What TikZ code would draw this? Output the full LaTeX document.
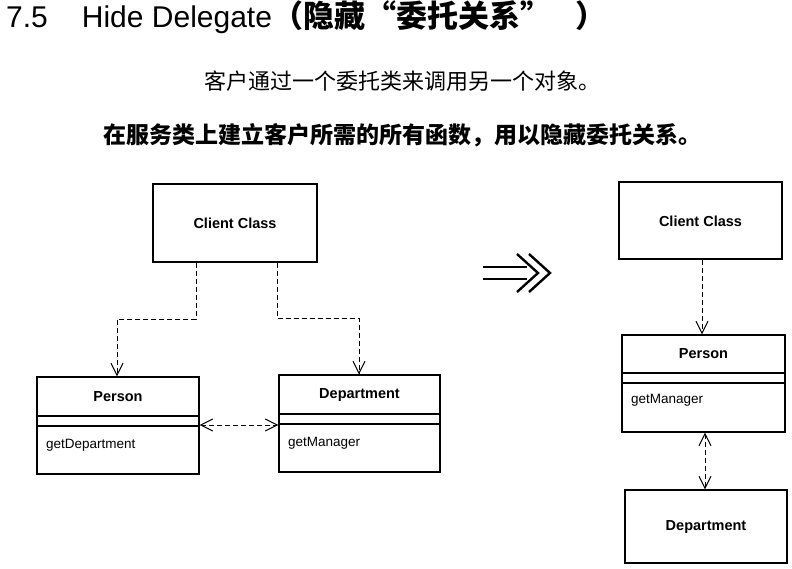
\documentclass[tikz,border=0pt]{standalone}
\usepackage{fontspec}
\setmainfont{Liberation Sans}
\newfontfamily\cjk{Noto Sans CJK SC}
\usetikzlibrary{arrows.meta}
\tikzset{
  box/.style={draw, line width=1.3pt, inner sep=0pt, rectangle},
  cname/.style={font=\fontsize{14.5}{16}\selectfont\bfseries, inner sep=0pt},
  meth/.style={font=\fontsize{13.5}{15}\selectfont, inner sep=0pt, anchor=west},
  sep/.style={line width=1.1pt},
  dep/.style={line width=1pt, dash pattern=on 5pt off 3pt, -{Straight Barb[length=12pt,width=12pt,line width=1pt]}},
  bidep/.style={line width=1pt, dash pattern=on 5pt off 3pt, {Straight Barb[length=12pt,width=12pt,line width=1pt]}-{Straight Barb[length=12pt,width=12pt,line width=1pt]}},
  bigarrow/.style={line width=2.4pt, line join=miter}
}
\begin{document}
\begin{tikzpicture}[x=1pt,y=-1pt]
\useasboundingbox (0,0) rectangle (792,569);
% title
\node[anchor=base west, inner sep=0pt, font=\fontsize{30}{34}\selectfont] (title) at (6,28)
  {7.5\hspace{34pt}Hide Delegate{\cjk\fontsize{31}{34}\selectfont\bfseries （隐藏“委托关系”\hspace{24pt}）}};
\node[inner sep=0pt, font=\cjk\fontsize{22}{26}\selectfont] (l2) at (402,81)
  {客户通过一个委托类来调用另一个对象。};
\node[inner sep=0pt, font=\cjk\fontsize{23}{27}\selectfont\bfseries] (l3) at (402,135)
  {在服务类上建立客户所需的所有函数，用以隐藏委托关系。};
% left diagram
\node[box, minimum width=164pt, minimum height=78pt] (c1) at (235,223) {};
\node[cname] (c1t) at (235,223) {Client Class};
\node[box, minimum width=162pt, minimum height=97pt] (p1) at (118,425.5) {};
\node[cname] (p1t) at (118,397) {Person};
\draw[sep] (p1.west |- 0,416) -- (p1.east |- 0,416);
\draw[sep] (p1.west |- 0,426) -- (p1.east |- 0,426);
\node[meth] (p1m) at (46,445) {getDepartment};
\node[box, minimum width=161pt, minimum height=97pt] (d1) at (359.5,423.5) {};
\node[cname] (d1t) at (359.5,395) {Department};
\draw[sep] (d1.west |- 0,414) -- (d1.east |- 0,414);
\draw[sep] (d1.west |- 0,424) -- (d1.east |- 0,424);
\node[meth] (d1m) at (288,443) {getManager};
\draw[dep] (c1.south -| 196,0) |- (117,319) -- (p1.north -| 117,0);
\draw[dep] (c1.south -| 277,0) |- (359,318) -- (d1.north -| 359,0);
\draw[bidep] (p1.east |- 0,425) -- (d1.west |- 0,425);
% big arrow
\draw[bigarrow] (483,267) -- (527,267);
\draw[bigarrow] (483,279) -- (527,279);
\draw[bigarrow] (517,254) -- (538,273) -- (517,292);
\draw[bigarrow] (529,254) -- (550,273) -- (529,292);
% right diagram
\node[box, minimum width=163pt, minimum height=77pt] (c2) at (700.5,220.5) {};
\node[cname] (c2t) at (700.5,221) {Client Class};
\node[box, minimum width=163pt, minimum height=97pt] (p2) at (703.5,383.5) {};
\node[cname] (p2t) at (703.5,354) {Person};
\draw[sep] (p2.west |- 0,373) -- (p2.east |- 0,373);
\draw[sep] (p2.west |- 0,383) -- (p2.east |- 0,383);
\node[meth] (p2m) at (631,400) {getManager};
\node[box, minimum width=162pt, minimum height=73pt] (d2) at (706,526.5) {};
\node[cname] (d2t) at (706,527) {Department};
\draw[dep] (c2.south -| 702,0) -- (p2.north -| 702,0);
\draw[bidep] (p2.south -| 705,0) -- (d2.north -| 705,0);
\end{tikzpicture}
\end{document}
